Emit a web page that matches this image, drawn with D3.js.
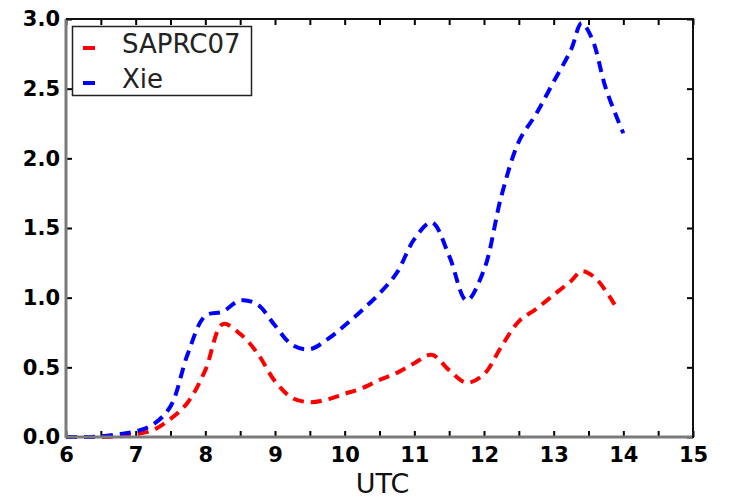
<!DOCTYPE html>
<html>
<head>
<meta charset="utf-8">
<script src="https://cdn.jsdelivr.net/npm/d3@7"></script>
<style>
  html, body { margin: 0; padding: 0; background: #fff; }
  svg { display: block; }
  text { font-family: "DejaVu Sans", sans-serif; }
</style>
</head>
<body>
<svg id="chart" width="731" height="500"></svg>
<script>
// Time of day (UTC, hours)
const timesXie = [6, 6.25, 6.5, 6.75, 7, 7.25, 7.5, 7.75, 8, 8.25, 8.5, 8.75, 9, 9.25, 9.5, 9.75,
  10, 10.25, 10.5, 10.75, 11, 11.25, 11.5, 11.75, 12, 12.25, 12.5, 12.75, 13, 13.25, 13.4, 13.55, 13.75, 14];
const valuesXie = [0, 0, 0.005, 0.02, 0.04, 0.09, 0.22, 0.6, 0.87, 0.9, 0.98, 0.95, 0.8, 0.66, 0.63, 0.7,
  0.8, 0.91, 1.03, 1.18, 1.42, 1.54, 1.3, 0.98, 1.2, 1.73, 2.12, 2.32, 2.55, 2.78, 2.97, 2.86, 2.5, 2.18];

const timesSaprc = [6, 6.25, 6.5, 6.75, 7, 7.25, 7.5, 7.75, 8, 8.25, 8.5, 8.75, 9, 9.25, 9.5, 9.75,
  10, 10.25, 10.5, 10.75, 11, 11.25, 11.5, 11.75, 12, 12.25, 12.5, 12.75, 13, 13.25, 13.4, 13.6, 13.875];
const valuesSaprc = [0, 0, 0, 0.005, 0.02, 0.05, 0.13, 0.25, 0.48, 0.81, 0.74, 0.6, 0.4, 0.28, 0.25, 0.27,
  0.31, 0.35, 0.41, 0.46, 0.53, 0.59, 0.48, 0.39, 0.45, 0.65, 0.83, 0.92, 1.02, 1.12, 1.19, 1.14, 0.95];

const xTicks = [6, 7, 8, 9, 10, 11, 12, 13, 14, 15];
const yTicks = [0, 0.5, 1.0, 1.5, 2.0, 2.5, 3.0];
const xMinorTicks = d3.range(6, 15.01, 0.5);

const series = [
  { name: "SAPRC07", color: "#ff0000", t: timesSaprc, v: valuesSaprc },
  { name: "Xie", color: "#0000ff", t: timesXie, v: valuesXie }
];

const plotLeft = 66, plotRight = 693, plotTop = 19, plotBottom = 437;
const x = d3.scaleLinear().domain([6, 15]).range([plotLeft, plotRight]);
const y = d3.scaleLinear().domain([0, 3]).range([plotBottom, plotTop]);

const svg = d3.select("#chart");

// Data lines
const line = d3.line()
  .x(d => x(d[0]))
  .y(d => y(d[1]))
  .curve(d3.curveCatmullRom.alpha(0.5));

series.forEach(s => {
  svg.append("path")
    .datum(s.t.map((t, i) => [t, s.v[i]]))
    .attr("d", line)
    .attr("fill", "none")
    .attr("stroke", s.color)
    .attr("stroke-width", 4)
    .attr("stroke-dasharray", "11,7");
});

// Axes with inward ticks on all four sides
const tickLen = 6;
const bottomAxis = d3.axisBottom(x).tickValues(xMinorTicks).tickSizeInner(-tickLen).tickSizeOuter(0)
  .tickFormat(d => xTicks.includes(d) ? d3.format("d")(d) : "").tickPadding(10);
const topAxis = d3.axisTop(x).tickValues(xMinorTicks).tickSizeInner(-tickLen).tickSizeOuter(0).tickFormat("");
const leftAxis = d3.axisLeft(y).tickValues(yTicks).tickSizeInner(-tickLen).tickSizeOuter(0)
  .tickFormat(d3.format(".1f")).tickPadding(6);
const rightAxis = d3.axisRight(y).tickValues(yTicks).tickSizeInner(-tickLen).tickSizeOuter(0).tickFormat("");

function style(g) {
  g.select(".domain").remove();
  g.selectAll(".tick line").attr("stroke", "#000").attr("stroke-width", 2);
  g.selectAll(".tick text").attr("fill", "#000").attr("font-size", 21).attr("font-weight", "bold")
    .attr("font-family", "DejaVu Sans, sans-serif");
}

svg.append("g").attr("transform", `translate(0,${plotBottom})`).call(bottomAxis).call(style);
svg.append("g").attr("transform", `translate(0,${plotTop})`).call(topAxis).call(style);
svg.append("g").attr("transform", `translate(${plotLeft},0)`).call(leftAxis).call(style);
svg.append("g").attr("transform", `translate(${plotRight},0)`).call(rightAxis).call(style);

// Frame
svg.append("line").attr("x1", plotLeft).attr("x2", plotLeft).attr("y1", plotTop).attr("y2", plotBottom + 1)
  .attr("stroke", "#7a7a7a").attr("stroke-width", 3);
svg.append("line").attr("x1", plotLeft).attr("x2", plotRight).attr("y1", plotBottom).attr("y2", plotBottom)
  .attr("stroke", "#7a7a7a").attr("stroke-width", 3);
svg.append("line").attr("x1", plotLeft).attr("x2", plotRight + 1).attr("y1", plotTop).attr("y2", plotTop)
  .attr("stroke", "#111").attr("stroke-width", 2);
svg.append("line").attr("x1", plotRight).attr("x2", plotRight).attr("y1", plotTop).attr("y2", plotBottom + 1)
  .attr("stroke", "#111").attr("stroke-width", 2);

// X axis title
svg.append("text").attr("x", (plotLeft + plotRight) / 2 + 3).attr("y", 493)
  .attr("text-anchor", "middle").attr("font-size", 27).attr("fill", "#111").text("UTC");

// Legend
const lg = svg.append("g");
lg.append("rect").attr("x", 72.5).attr("y", 26.5).attr("width", 179).attr("height", 69)
  .attr("fill", "#fff").attr("stroke", "#222").attr("stroke-width", 1.5);
series.forEach((s, i) => {
  const cy = 48 + i * 35;
  lg.append("line").attr("x1", 83).attr("x2", 95).attr("y1", cy).attr("y2", cy)
    .attr("stroke", s.color).attr("stroke-width", 4);
  lg.append("text").attr("x", 122).attr("y", 53 + i * 35)
    .attr("font-size", 26).attr("fill", "#222").text(s.name);
});
</script>
</body>
</html>
